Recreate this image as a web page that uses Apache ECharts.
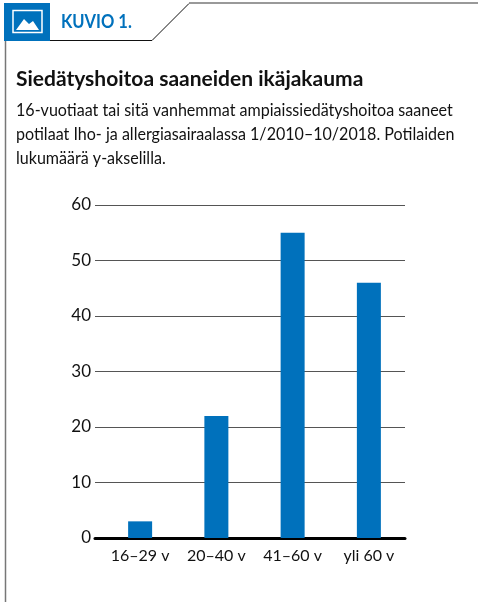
<!DOCTYPE html>
<html>
<head>
<meta charset="utf-8">
<style>
  html, body { margin: 0; padding: 0; background: #fff; }
  #main { width: 478px; height: 602px; }
</style>
<script src="https://cdn.jsdelivr.net/npm/echarts@6/dist/echarts.min.js"></script>
</head>
<body>
<div id="main"></div>
<script>
const categories = ['16–29 v', '20–40 v', '41–60 v', 'yli 60 v']
const patients = [3, 22, 55, 46]
const yTicks = [0, 10, 20, 30, 40, 50, 60]

const headerLabel = 'KUVIO 1.'
const titleText = 'Siedätyshoitoa saaneiden ikäjakauma'
const subtitleLines = [
  '16-vuotiaat tai sitä vanhemmat ampiaissiedätyshoitoa saaneet',
  'potilaat Iho- ja allergiasairaalassa 1/2010–10/2018. Potilaiden',
  'lukumäärä y-akselilla.'
]

const blue = '#0071bc'
const ink = '#111'
const fontName = 'Lato, sans-serif'

const myChart = echarts.init(document.getElementById('main'), null, { renderer: 'canvas' })

myChart.setOption({
  animation: false,
  backgroundColor: '#fff',
  // grid 0 carries the lines and y labels, grid 1 the bars (they are offset from the lines)
  grid: [
    { left: 95, right: 73, top: 205, height: 333 },
    { left: 102, right: 71, top: 205, height: 333 }
  ],
  xAxis: [
    {
      gridIndex: 0, type: 'value', min: 0, max: 1,
      axisLine: { show: true, onZero: false, lineStyle: { color: '#000', width: 3 } },
      axisTick: { show: false }, axisLabel: { show: false }, splitLine: { show: false }
    },
    {
      gridIndex: 1, type: 'category', data: categories,
      axisLine: { show: false }, axisTick: { show: false },
      axisLabel: { color: ink, fontFamily: fontName, fontSize: 16, margin: 10, interval: 0 }
    }
  ],
  yAxis: [
    {
      gridIndex: 0, type: 'value', min: yTicks[0], max: yTicks[yTicks.length - 1], interval: 10,
      axisLine: { show: false }, axisTick: { show: false },
      axisLabel: { color: ink, fontFamily: fontName, fontSize: 17, margin: 4 },
      splitLine: { show: true, lineStyle: { color: '#555', width: 1 } }
    },
    {
      gridIndex: 1, type: 'value', min: yTicks[0], max: yTicks[yTicks.length - 1], interval: 10,
      axisLine: { show: false }, axisTick: { show: false }, axisLabel: { show: false }, splitLine: { show: false }
    }
  ],
  series: [{
    type: 'bar',
    xAxisIndex: 1,
    yAxisIndex: 1,
    data: patients,
    barWidth: 24,
    itemStyle: { color: blue }
  }],
  graphic: [
    { type: 'line', shape: { x1: 5.5, y1: 40, x2: 5.5, y2: 602 }, style: { stroke: '#777', lineWidth: 1.5 } },
    { type: 'polyline', shape: { points: [[50, 40.5], [152, 40.5], [189, 3.5]] }, style: { fill: null, stroke: '#111', lineWidth: 1 } },
    { type: 'line', shape: { x1: 189, y1: 3, x2: 478, y2: 3 }, style: { stroke: '#777', lineWidth: 1.5 } },
    { type: 'rect', shape: { x: 4, y: 3, width: 46, height: 38 }, style: { fill: blue } },
    { type: 'rect', shape: { x: 13, y: 10.5, width: 29, height: 22 }, style: { fill: null, stroke: '#fff', lineWidth: 1.5 } },
    { type: 'polygon', shape: { points: [[16, 30], [24, 19], [29, 24], [33, 21], [39, 30]] }, style: { fill: '#fff' } },
    { type: 'text', x: 61, y: 22, scaleX: 0.87, style: { text: headerLabel, fill: blue, font: 'bold 19px ' + fontName, textVerticalAlign: 'middle' } },
    { type: 'text', x: 16, y: 79, style: { text: titleText, fill: '#111', font: 'bold 21px ' + fontName, textVerticalAlign: 'middle' } },
    ...subtitleLines.map((line, i) => ({
      type: 'text', x: 16, y: 111 + i * 24, scaleX: 0.945,
      style: { text: line, fill: ink, font: '17px ' + fontName, textVerticalAlign: 'middle' }
    }))
  ]
})
</script>
</body>
</html>
